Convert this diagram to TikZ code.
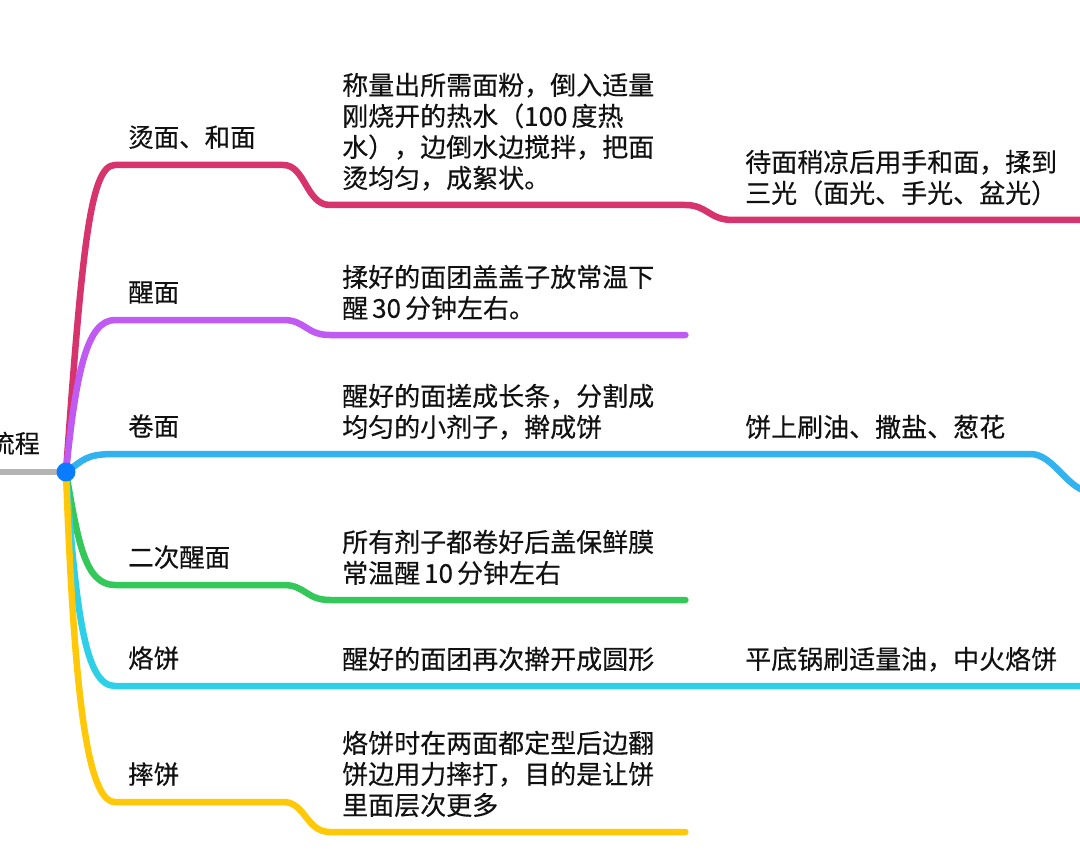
\documentclass[tikz,border=0pt]{standalone}
\usepackage{fontspec}
\newfontfamily\cjk[FakeBold=0.35]{Noto Sans CJK SC}
\usetikzlibrary{backgrounds}
\definecolor{mmred}{HTML}{D7336C}
\definecolor{mmpurple}{HTML}{BF5AF2}
\definecolor{mmblue}{HTML}{32B2EE}
\definecolor{mmgreen}{HTML}{34C759}
\definecolor{mmcyan}{HTML}{2DD0E6}
\definecolor{mmyellow}{HTML}{FFC90A}
\definecolor{mmroot}{HTML}{0A7CFF}
\definecolor{mmgray}{HTML}{B4B4B4}
\definecolor{mmtext}{HTML}{111111}
\newcommand{\num}[1]{\hspace{4pt}#1\hspace{4pt}}
\tikzset{
  mm/main/.style={anchor=south east, inner sep=0pt, text=mmtext, font=\cjk\fontsize{25}{31}\selectfont, execute at end node={\rule[-19pt]{0pt}{0pt}}},
  mm/topic/.style={anchor=south west, inner xsep=13pt, inner ysep=0pt, text width=142pt, align=left, text=mmtext, font=\cjk\fontsize{25.5}{31}\selectfont, execute at end node={\rule[-18pt]{0pt}{0pt}}},
  mm/sub/.style={anchor=south west, inner xsep=12pt, inner ysep=0pt, text width=331pt, align=left, text=mmtext, font=\cjk\fontsize{26}{31}\selectfont, execute at end node={\rule[-17pt]{0pt}{0pt}}},
  mm/line/.style={line width=6.5pt, line cap=round, line join=round},
  mm/dot/.style={circle, fill=mmroot, inner sep=0pt, minimum size=19pt},
}

\begin{document}
\begin{tikzpicture}[x=1pt, y=-1pt]
  \useasboundingbox (0,0) rectangle (1080,864);

  % Centro
  \node[mm/dot] (root) at (66,472) {};
  \node[mm/main] (main) at (40,472) {流程};

  % Ramos
  \node[mm/topic] (t1) at (115,165) {烫面、和面};
  \node[mm/topic] (t2) at (115,320) {醒面};
  \node[mm/topic] (t3) at (115,454) {卷面};
  \node[mm/topic] (t4) at (115,585) {二次醒面};
  \node[mm/topic] (t5) at (115,686) {烙饼};
  \node[mm/topic] (t6) at (115,802) {摔饼};

  % Detalhes
  \node[mm/sub] (s1) at (330,205) {称量出所需面粉，倒入适量\\刚烧开的热水（100\hspace{4pt}度热\\水），边倒水边搅拌，把面\\烫均匀，成絮状。};
  \node[mm/sub] (s2) at (330,335) {揉好的面团盖盖子放常温下\\醒\num{30}分钟左右。};
  \node[mm/sub] (s3) at (330,454) {醒好的面搓成长条，分割成\\均匀的小剂子，擀成饼};
  \node[mm/sub] (s4) at (330,600) {所有剂子都卷好后盖保鲜膜\\常温醒\num{10}分钟左右};
  \node[mm/sub] (s5) at (330,686) {醒好的面团再次擀开成圆形};
  \node[mm/sub] (s6) at (330,832) {烙饼时在两面都定型后边翻\\饼边用力摔打，目的是让饼\\里面层次更多};

  \node[mm/sub, text width=336pt] (g1) at (733,220) {待面稍凉后用手和面，揉到\\三光（面光、手光、盆光）};
  \node[mm/sub, text width=273pt] (g3) at (733,454) {饼上刷油、撒盐、葱花};
  \node[mm/sub, text width=336pt] (g5) at (733,686) {平底锅刷适量油，中火烙饼};
  \coordinate (g3x) at (1092,492);

  \begin{scope}[on background layer]
    \fill[white] (0,0) rectangle (1080,864);
    \draw[mm/line, mmgray] (main.south west) -- (root.center);
    \draw[mm/line, mmred] (root.center) .. controls +(16,-222) and +(-25,0) .. (t1.south west) -- (t1.south east)
      .. controls +(22,0) and +(-24,0) .. (s1.south west) -- (s1.south east)
      .. controls +(22,0) and +(-24,0) .. (g1.south west) -- (g1.south east);
    \draw[mm/line, mmpurple] (root.center) .. controls +(10,-100) and +(-28,0) .. (t2.south west) -- (t2.south east)
      .. controls +(22,0) and +(-24,0) .. (s2.south west) -- (s2.south east);
    \draw[mm/line, mmblue] (root.center) .. controls +(18,-12) and +(-30,0) .. (t3.south west) -- (t3.south east)
      -- (s3.south west) -- (s3.south east) -- (g3.south west) -- (g3.south east)
      .. controls +(24,0) and +(-24,0) .. (g3x);
    \draw[mm/line, mmgreen] (root.center) .. controls +(12,70) and +(-30,0) .. (t4.south west) -- (t4.south east)
      .. controls +(22,0) and +(-24,0) .. (s4.south west) -- (s4.south east);
    \draw[mm/line, mmcyan] (root.center) .. controls +(10,140) and +(-30,0) .. (t5.south west) -- (t5.south east)
      -- (s5.south west) -- (s5.south east) -- (g5.south west) -- (g5.south east);
    \draw[mm/line, mmyellow] (root.center) .. controls +(8,220) and +(-28,0) .. (t6.south west) -- (t6.south east)
      .. controls +(22,0) and +(-24,0) .. (s6.south west) -- (s6.south east);
  \end{scope}
\end{tikzpicture}
\end{document}
